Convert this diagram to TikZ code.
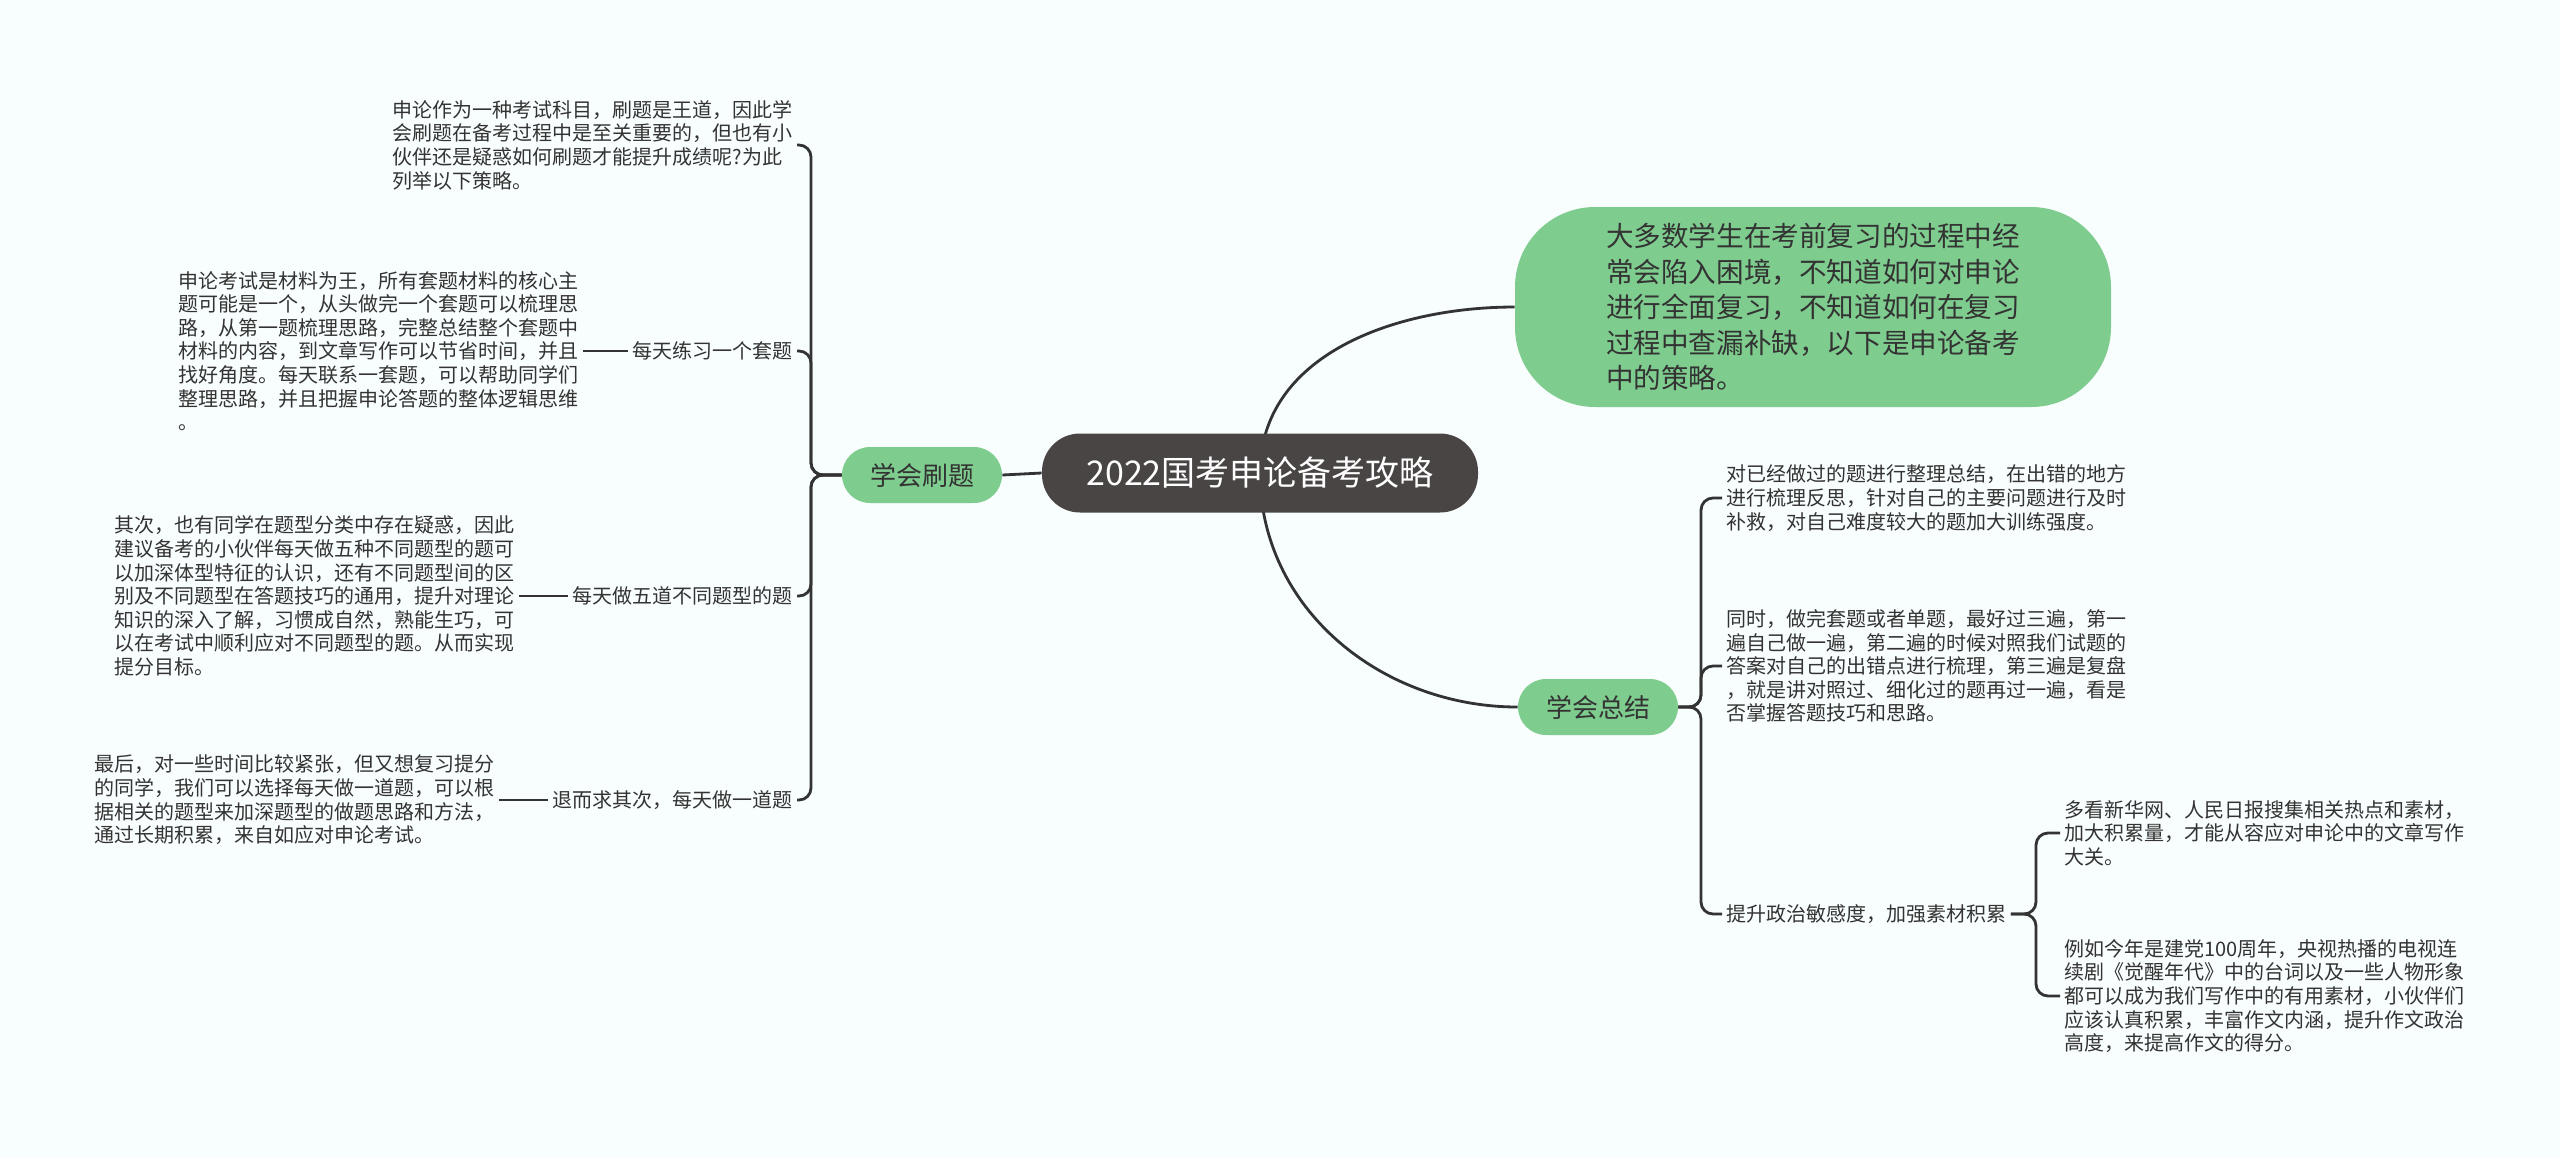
\documentclass[tikz,border=0pt]{standalone}
\usepackage{fontspec}
\setmainfont{Noto Sans CJK SC}
\usetikzlibrary{backgrounds}
\definecolor{pagebg}{RGB}{248,253,253}
\definecolor{rootfill}{RGB}{74,69,69}
\definecolor{leaf}{RGB}{127,204,143}
\definecolor{ink}{RGB}{51,51,51}

\begin{document}
\begin{tikzpicture}[x=0.5pt, y=-0.5pt]
    \tikzstyle{topic} = [rectangle, fill=rootfill, text=white, rounded corners=19pt, minimum width=218pt, minimum height=39.5pt, font=\fontsize{17}{20}\selectfont]
    \tikzstyle{branch} = [rectangle, fill=leaf, text=ink, rounded corners=14pt, minimum width=80pt, minimum height=28pt, font=\fontsize{13}{15}\selectfont]
    \tikzstyle{bubble} = [rectangle, fill=leaf, text=ink, rounded corners=40pt, minimum width=298pt, minimum height=100pt, align=left, font=\fontsize{13.8}{17.7}\selectfont]
    \tikzstyle{note} = [inner sep=2pt, text=ink, align=left, font=\fontsize{10}{11.8}\selectfont]
    \tikzstyle{link} = [draw=ink, line width=1.4pt, rounded corners=6pt]
    \useasboundingbox (0,0) rectangle (2560,1158);

    \node [topic] (root) at (1260,473) {2022国考申论备考攻略};
    \node [branch] (drill) at (922,475) {学会刷题};
    \node [branch] (sumup) at (1598,707) {学会总结};
    \node [bubble] (intro) at (1813,307) {大多数学生在考前复习的过程中经\\常会陷入困境，不知道如何对申论\\进行全面复习，不知道如何在复习\\过程中查漏补缺，以下是申论备考\\中的策略。};

    % left side
    \node [note, anchor=east] (why) at (797,145) {申论作为一种考试科目，刷题是王道，因此学\\会刷题在备考过程中是至关重要的，但也有小\\伙伴还是疑惑如何刷题才能提升成绩呢?为此\\列举以下策略。};
    \node [note, anchor=east] (oneset) at (797,351) {每天练习一个套题};
    \node [note, anchor=east] (oneset note) at (583,351) {申论考试是材料为王，所有套题材料的核心主\\题可能是一个，从头做完一个套题可以梳理思\\路，从第一题梳理思路，完整总结整个套题中\\材料的内容，到文章写作可以节省时间，并且\\找好角度。每天联系一套题，可以帮助同学们\\整理思路，并且把握申论答题的整体逻辑思维\\。};
    \node [note, anchor=east] (five) at (797,596) {每天做五道不同题型的题};
    \node [note, anchor=east] (five note) at (519,596) {其次，也有同学在题型分类中存在疑惑，因此\\建议备考的小伙伴每天做五种不同题型的题可\\以加深体型特征的认识，还有不同题型间的区\\别及不同题型在答题技巧的通用，提升对理论\\知识的深入了解，习惯成自然，熟能生巧，可\\以在考试中顺利应对不同题型的题。从而实现\\提分目标。};
    \node [note, anchor=east] (single) at (797,800) {退而求其次，每天做一道题};
    \node [note, anchor=east] (single note) at (499,800) {最后，对一些时间比较紧张，但又想复习提分\\的同学，我们可以选择每天做一道题，可以根\\据相关的题型来加深题型的做题思路和方法，\\通过长期积累，来自如应对申论考试。};

    % right side
    \node [note, anchor=west] (recap) at (1722,498) {对已经做过的题进行整理总结，在出错的地方\\进行梳理反思，针对自己的主要问题进行及时\\补救，对自己难度较大的题加大训练强度。};
    \node [note, anchor=west] (thrice) at (1722,666) {同时，做完套题或者单题，最好过三遍，第一\\遍自己做一遍，第二遍的时候对照我们试题的\\答案对自己的出错点进行梳理，第三遍是复盘\\，就是讲对照过、细化过的题再过一遍，看是\\否掌握答题技巧和思路。};
    \node [note, anchor=west] (politics) at (1722,914) {提升政治敏感度，加强素材积累};
    \node [note, anchor=west] (news) at (2060,833) {多看新华网、人民日报搜集相关热点和素材，\\加大积累量，才能从容应对申论中的文章写作\\大关。};
    \node [note, anchor=west] (drama) at (2060,996) {例如今年是建党100周年，央视热播的电视连\\续剧《觉醒年代》中的台词以及一些人物形象\\都可以成为我们写作中的有用素材，小伙伴们\\应该认真积累，丰富作文内涵，提升作文政治\\高度，来提高作文的得分。};

    \coordinate (lfork) at (811,475);
    \coordinate (rfork) at (1701,707);
    \coordinate (sfork) at (2036,914);

    \begin{scope}[on background layer]
        \fill [pagebg] (0,0) rectangle (2560,1158);
        \draw [link] (root.center) to[out=90, in=180] (intro.west);
        \draw [link] (root.center) to[out=-90, in=180] (sumup.west);
        \draw [link] (root.west) -- (drill.east);
        \draw [link] (drill.west) -- (lfork) |- (why.east);
        \draw [link] (drill.west) -- (lfork) |- (oneset.east);
        \draw [link] (drill.west) -- (lfork) |- (five.east);
        \draw [link] (drill.west) -- (lfork) |- (single.east);
        \draw [link] (oneset note.east) -- (oneset.west);
        \draw [link] (five note.east) -- (five.west);
        \draw [link] (single note.east) -- (single.west);
        \draw [link] (sumup.east) -- (rfork) |- (recap.west);
        \draw [link] (sumup.east) -- (rfork) |- (thrice.west);
        \draw [link] (sumup.east) -- (rfork) |- (politics.west);
        \draw [link] (politics.east) -- (sfork) |- (news.west);
        \draw [link] (politics.east) -- (sfork) |- (drama.west);
    \end{scope}
\end{tikzpicture}
\end{document}
